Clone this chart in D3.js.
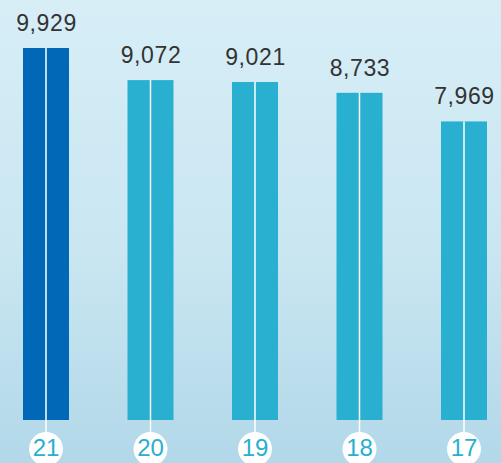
<!DOCTYPE html>
<html>
<head>
<meta charset="utf-8">
<script src="https://cdn.jsdelivr.net/npm/d3@7"></script>
<style>
	body { margin: 0; }
	svg { display: block; }
</style>
</head>
<body>
<script>
var years = ["21", "20", "19", "18", "17"];
var values = [9929, 9072, 9021, 8733, 7969];
var highlight = ["21"];

var W = 501, H = 463;
var svg = d3.select("body").append("svg")
	.attr("width", W)
	.attr("height", H);

// background
var defs = svg.append("defs");
var grad = defs.append("linearGradient")
	.attr("id", "bg")
	.attr("x1", 0).attr("y1", 0).attr("x2", 0).attr("y2", 1);
grad.append("stop").attr("offset", "0%").attr("stop-color", "#d7eef7");
grad.append("stop").attr("offset", "55%").attr("stop-color", "#c9e6f1");
grad.append("stop").attr("offset", "100%").attr("stop-color", "#b2d8e9");
svg.append("rect")
	.attr("width", W)
	.attr("height", H)
	.style("fill", "url(#bg)");

var x = d3.scaleBand()
	.domain(years)
	.range([2.1, 507.9])
	.paddingInner(0.5598)
	.paddingOuter(0.2);

var y = d3.scaleLinear()
	.domain([0, 9929])
	.range([420, 48]);

var fmt = d3.format(",");

var g = svg.append("g");

//bars
g.selectAll(".bar")
	.data(years)
.enter().append("rect")
	.attr("class", "bar")
	.attr("x", function(d){ return x(d); })
	.attr("y", function(d, i){ return y(values[i]); })
	.attr("width", x.bandwidth())
	.attr("height", function(d, i){ return y(0) - y(values[i]); })
	.style("fill", function(d){ return highlight.indexOf(d) >= 0 ? "#0068b6" : "#29afcf"; });

//divider lines
g.selectAll(".divider")
	.data(years)
.enter().append("line")
	.attr("class", "divider")
	.attr("x1", function(d){ return x(d) + x.bandwidth()/2; })
	.attr("x2", function(d){ return x(d) + x.bandwidth()/2; })
	.attr("y1", function(d, i){ return y(values[i]); })
	.attr("y2", 440)
	.style("stroke", "#ffffff")
	.style("stroke-width", 1.5);

//value labels
g.selectAll(".val")
	.data(years)
.enter().append("text")
	.attr("class", "val")
	.attr("x", function(d){ return x(d) + x.bandwidth()/2 + 0.5; })
	.attr("y", function(d, i){ return y(values[i]) - 17; })
	.attr("text-anchor", "middle")
	.style("font-family", "'Liberation Sans', Arial, sans-serif")
	.style("font-size", "23px")
	.style("letter-spacing", "0.6px")
	.style("fill", "#333333")
	.text(function(d, i){ return fmt(values[i]); });

//year circles
g.selectAll(".yc")
	.data(years)
.enter().append("circle")
	.attr("class", "yc")
	.attr("cx", function(d){ return x(d) + x.bandwidth()/2; })
	.attr("cy", 449)
	.attr("r", 17)
	.style("fill", "#ffffff");

g.selectAll(".yt")
	.data(years)
.enter().append("text")
	.attr("class", "yt")
	.attr("x", function(d){ return x(d) + x.bandwidth()/2; })
	.attr("y", 456)
	.attr("text-anchor", "middle")
	.style("font-family", "'Liberation Sans', Arial, sans-serif")
	.style("font-size", "24px")
	.style("fill", "#29afcf")
	.text(function(d){ return d; });
</script>
</body>
</html>
